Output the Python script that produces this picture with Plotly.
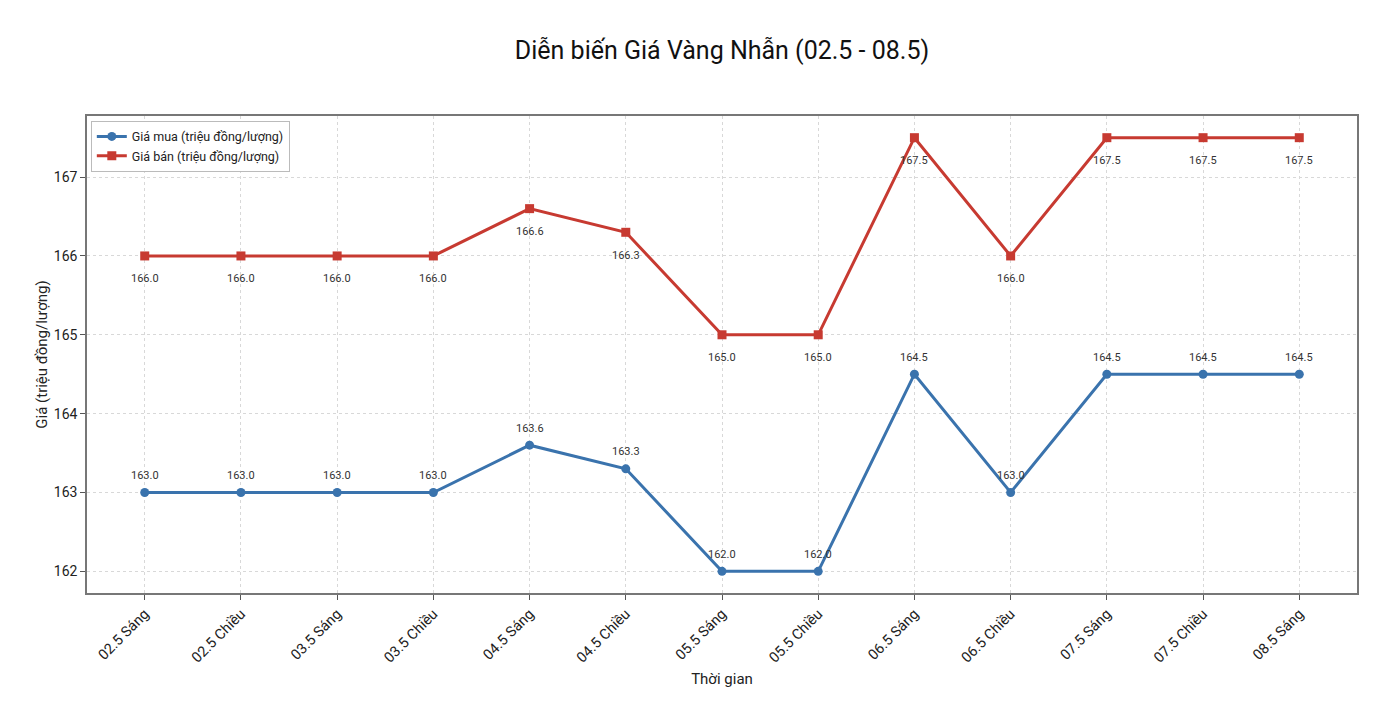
import plotly.graph_objects as go

# dữ liệu giá vàng nhẫn
thoi_gian = ["02.5 Sáng", "02.5 Chiều", "03.5 Sáng", "03.5 Chiều", "04.5 Sáng", "04.5 Chiều",
             "05.5 Sáng", "05.5 Chiều", "06.5 Sáng", "06.5 Chiều", "07.5 Sáng", "07.5 Chiều", "08.5 Sáng"]
gia_mua = [163.0, 163.0, 163.0, 163.0, 163.6, 163.3, 162.0, 162.0, 164.5, 163.0, 164.5, 164.5, 164.5]
gia_ban = [166.0, 166.0, 166.0, 166.0, 166.6, 166.3, 165.0, 165.0, 167.5, 166.0, 167.5, 167.5, 167.5]

xs = list(range(len(thoi_gian)))
xanh = "#3a73ad"
do = "#c73a31"
font_chu = "Roboto"

fig = go.Figure()
fig.add_trace(go.Scatter(x=xs, y=gia_mua, mode="lines+markers", name="Giá mua (triệu đồng/lượng)",
                         line=dict(color=xanh, width=3), marker=dict(symbol="circle", size=9, color=xanh)))
fig.add_trace(go.Scatter(x=xs, y=gia_ban, mode="lines+markers", name="Giá bán (triệu đồng/lượng)",
                         line=dict(color=do, width=3), marker=dict(symbol="square", size=9, color=do)))

# nhãn giá trị
for x, v in zip(xs, gia_mua):
    fig.add_annotation(x=x, y=v, text=f"{v:.1f}", showarrow=False, yshift=17,
                       font=dict(size=11, color="#333333", family=font_chu))
for x, v in zip(xs, gia_ban):
    fig.add_annotation(x=x, y=v, text=f"{v:.1f}", showarrow=False, yshift=-23,
                       font=dict(size=11, color="#333333", family=font_chu))

fig.update_layout(
    width=1384, height=722,
    paper_bgcolor="white", plot_bgcolor="white",
    font=dict(family=font_chu, color="#222222"),
    title=dict(text="Diễn biến Giá Vàng Nhẫn (02.5 - 08.5)", x=0.5, xref="paper", xanchor="center",
               y=0.942, yanchor="middle", font=dict(size=25, color="#111111")),
    margin=dict(l=79, r=35, t=108, b=137),
    legend=dict(x=0.003, y=0.99, xanchor="left", yanchor="top", bgcolor="white",
                bordercolor="#bbbbbb", borderwidth=1, font=dict(size=12.5)),
    showlegend=True,
)
fig.update_xaxes(range=[-0.6, 12.6], tickmode="array", tickvals=xs, ticktext=thoi_gian, tickangle=-45,
                 showgrid=True, gridcolor="#d8d8d8", gridwidth=0.8, griddash="dot", zeroline=False,
                 showline=True, linecolor="#777777", linewidth=1.5, mirror=True,
                 ticks="outside", ticklen=5, tickcolor="#555555", tickfont=dict(size=14.5),
                 title=dict(text="Thời gian", font=dict(size=15), standoff=8))
fig.update_yaxes(range=[161.725, 167.775], tickvals=[162, 163, 164, 165, 166, 167],
                 showgrid=True, gridcolor="#d8d8d8", gridwidth=0.8, griddash="dot", zeroline=False,
                 showline=True, linecolor="#777777", linewidth=1.5, mirror=True,
                 ticks="outside", ticklen=5, tickcolor="#555555", tickfont=dict(size=14),
                 title=dict(text="Giá (triệu đồng/lượng)", font=dict(size=15), standoff=3))

fig.write_html("out.html")
